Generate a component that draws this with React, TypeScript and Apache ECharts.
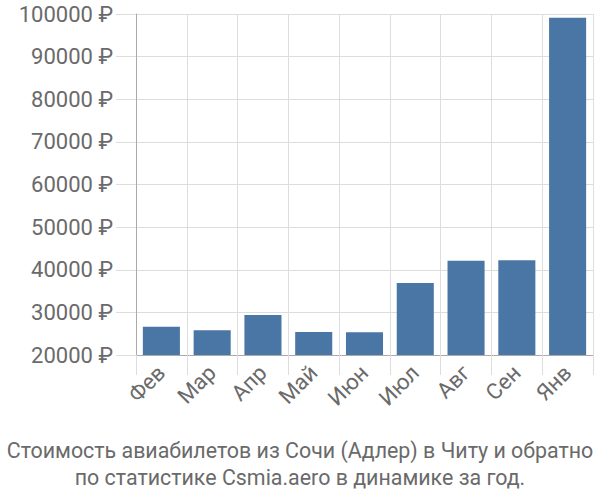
import React, { useEffect, useRef } from "react";
import * as echarts from "echarts";

const categories = ["Фев", "Мар", "Апр", "Май", "Июн", "Июл", "Авг", "Сен", "Янв"];
const prices = [26630, 25790, 29370, 25390, 25320, 36870, 42090, 42250, 99100];
const titleLines = [
  "Стоимость авиабилетов из Сочи (Адлер) в Читу и обратно",
  "по статистике Csmia.aero в динамике за год.",
];

export default function App() {
  const ref = useRef<HTMLDivElement>(null);
  useEffect(() => {
    const chart = echarts.init(ref.current!, undefined, { renderer: "svg" });
    const font = "Roboto, 'Liberation Sans', Arial, sans-serif";
    chart.setOption({
      animation: false,
      textStyle: { fontFamily: font },
      grid: { left: 136, right: 7, top: 14, bottom: 145, containLabel: false },
      title: {
        text: titleLines.join("\n"),
        left: "center",
        top: 432,
        textStyle: { fontFamily: font, fontSize: 21.4, fontWeight: "normal", color: "#6a6a6a", lineHeight: 27 },
      },
      xAxis: {
        type: "category",
        data: categories,
        axisLine: { show: true, lineStyle: { color: "#aaa", width: 1 } },
        axisTick: { show: true, length: 20, alignWithLabel: false, lineStyle: { color: "#ddd" } },
        splitLine: { show: true, lineStyle: { color: "#ddd" } },
        axisLabel: { rotate: 45, fontSize: 22, color: "#6a6a6a", margin: 14, interval: 0, fontFamily: font },
      },
      yAxis: {
        type: "value",
        min: 20000,
        max: 100000,
        interval: 10000,
        axisLine: { show: true, lineStyle: { color: "#aaa" } },
        axisTick: { show: true, length: 20, lineStyle: { color: "#ddd" } },
        splitLine: { show: true, lineStyle: { color: "#ddd" } },
        axisLabel: { fontSize: 22, color: "#6a6a6a", margin: 23, formatter: (v: number) => `${v} ₽`, fontFamily: font },
      },
      series: [
        {
          type: "bar",
          data: prices,
          barCategoryGap: "27%",
          itemStyle: { color: "#4a76a6" },
        },
      ],
    });
    return () => chart.dispose();
  }, []);
  return <div ref={ref} style={{ width: 600, height: 500, position: "absolute", left: 0, top: 0 }} />;
}
